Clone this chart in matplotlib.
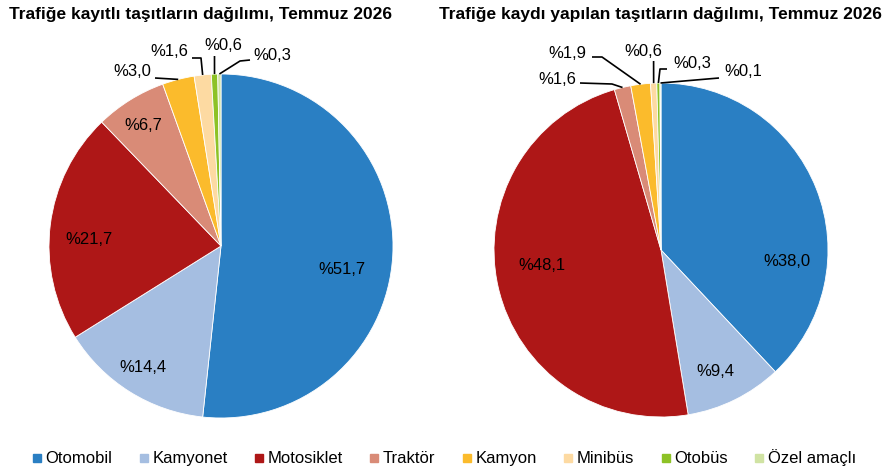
import numpy as np
import matplotlib
matplotlib.use("Agg")
import matplotlib.pyplot as plt
from matplotlib.lines import Line2D

plt.rcParams['font.family'] = ['Liberation Sans', 'DejaVu Sans']

# categories and shares (%)
categories = ["Otomobil", "Kamyonet", "Motosiklet", "Traktör", "Kamyon",
              "Minibüs", "Otobüs", "Özel amaçlı"]
kayitli = [51.7, 14.4, 21.7, 6.7, 3.0, 1.6, 0.6, 0.3]
kaydi_yapilan = [38.0, 9.4, 48.1, 1.6, 1.9, 0.6, 0.3, 0.1]

titles = ["Trafiğe kayıtlı taşıtların dağılımı, Temmuz 2026",
          "Trafiğe kaydı yapılan taşıtların dağılımı, Temmuz 2026"]

colors = ["#2A7FC3", "#A5BEE1", "#AE1717", "#D98B77", "#FBBB2C",
          "#FDDAA2", "#8DC226", "#D0E3A3"]

H = 470  # figure height in px, layout below is in pixel units (y from top)


def P(x, y):
    return x, H - y


# label layout for each pie (pixel coords, y from top)
# inside labels: text centre
inner_left = {0: (342, 270), 1: (143, 368), 2: (89, 239), 3: (143, 126)}
inner_right = {0: (787, 262), 1: (715, 372), 2: (542, 266)}
# outside labels: text centre + leader points before reaching the wedge
outer_left = {
    4: ((132, 72), [(155, 78)]),
    5: ((169, 52), [(192, 58), (201, 58)]),
    6: ((223, 45), [(214.5, 56)]),
    7: ((272, 56), [(250, 60), (240, 61)]),
}
outer_right = {
    3: ((557, 79), [(580, 83), (612, 84)]),
    4: ((567, 53), [(592, 57), (602, 57)]),
    5: ((643, 52), [(653.6, 61)]),
    6: ((692, 63), [(667, 69), (660, 69)]),
    7: ((743, 72), [(719, 78)]),
}


def fmt(v):
    return "%" + f"{v:.1f}".replace(".", ",")


def draw_pie(ax, values, cx, cy, r, inner, outer):
    ax.pie(values, colors=colors, startangle=90, counterclock=False,
           center=P(cx, cy), radius=r,
           wedgeprops=dict(edgecolor="white", linewidth=0.6))
    total = sum(values)
    cum = np.cumsum(values) - np.array(values) / 2
    for i, v in enumerate(values):
        if i in inner:
            tx, ty = inner[i]
            ax.text(*P(tx, ty), fmt(v), ha="center", va="center", fontsize=12)
        elif i in outer:
            (tx, ty), pts = outer[i]
            ang = np.deg2rad(cum[i] / total * 360)
            ax_x = cx + r * np.sin(ang)
            ax_y = cy - r * np.cos(ang)
            line = pts + [(ax_x, ax_y)]
            xs = [p[0] for p in line]
            ys = [H - p[1] for p in line]
            ax.plot(xs, ys, color="black", lw=1.2, solid_capstyle="butt")
            ax.text(*P(tx, ty), fmt(v), ha="center", va="center", fontsize=12)


fig = plt.figure(figsize=(8.86, 4.70), dpi=100)
ax = fig.add_axes([0, 0, 1, 1])

draw_pie(ax, kayitli, 221, 246, 172, inner_left, outer_left)
draw_pie(ax, kaydi_yapilan, 661, 250, 167, inner_right, outer_right)

ax.set_xlim(0, 886)
ax.set_ylim(0, H)
ax.set_aspect("auto")
ax.axis("off")

ax.text(*P(201, 14), titles[0], ha="center", va="center",
        fontsize=12.5, fontweight="bold")
ax.text(*P(660, 14), titles[1], ha="center", va="center",
        fontsize=12.5, fontweight="bold")

handles = [Line2D([], [], marker="s", linestyle="", color=c, markersize=6)
           for c in colors]
fig.legend(handles, categories, loc="center", bbox_to_anchor=(444 / 886, 1 - 458 / H),
           ncol=8, frameon=False, handlelength=0.6, handletextpad=0.2,
           columnspacing=1.6, prop=dict(size=12))

fig.savefig("out.png", dpi=100)
